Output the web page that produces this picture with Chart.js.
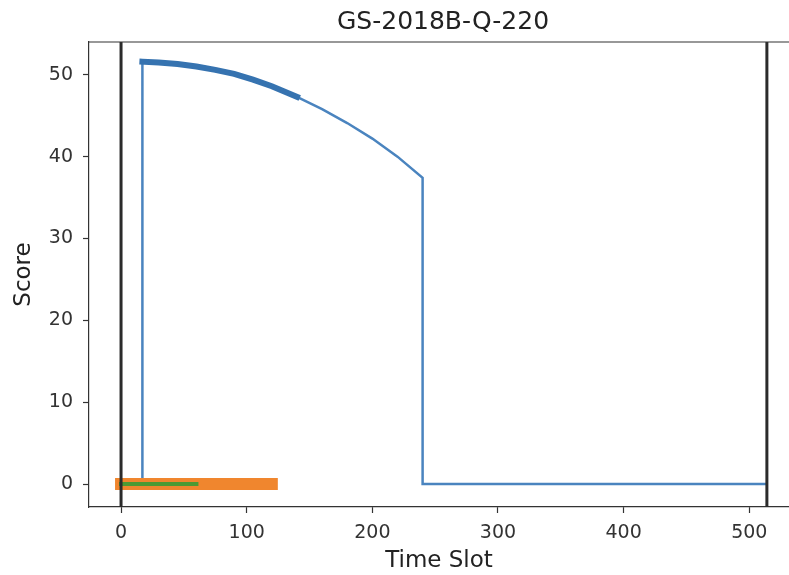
<!DOCTYPE html>
<html lang="en">
<head>
    <meta charset="UTF-8">
    <title>GS-2018B-Q-220</title>
    <style>
        html, body { margin: 0; padding: 0; background: #fff; }
        .chart-container { width: 789px; height: 575px; }
    </style>
    <script src="https://cdn.jsdelivr.net/npm/chart.js"></script>
</head>
<body>
    <div class="chart-container">
        <canvas id="score-chart"></canvas>
    </div>

    <script>
        // Score curve (time slot, score)
        const scoreSlots = [17, 17, 30, 45, 60, 75, 90, 105, 120, 140, 160, 180, 200, 220, 240, 240, 514];
        const scoreValues = [0, 51.6, 51.5, 51.3, 51.0, 50.6, 50.1, 49.4, 48.6, 47.3, 45.8, 44.1, 42.2, 40.0, 37.4, 0, 0];

        // highlighted (thick) part of the curve
        const thickSlots = [17, 30, 45, 60, 75, 90, 105, 120, 140];
        const thickValues = [51.6, 51.5, 51.3, 51.0, 50.6, 50.1, 49.4, 48.6, 47.3];

        // horizontal bars on the zero line
        const orangeRange = [0, 120];
        const greenRange = [0, 60];

        // vertical boundaries
        const boundarySlots = [0, 514];

        const xTicks = [0, 100, 200, 300, 400, 500];
        const yTicks = [0, 10, 20, 30, 40, 50];
        const xLimits = [-25.5, 531.6];
        const yLimits = [-2.8, 54];

        const titleText = 'GS-2018B-Q-220';

        const toPoints = (xs, ys) => xs.map((x, i) => ({ x: x, y: ys[i] }));

        const lineDs = (data, color, width, cap) => ({
            data: data,
            showLine: true,
            borderColor: color,
            backgroundColor: color,
            borderWidth: width,
            borderCapStyle: cap || 'butt',
            borderJoinStyle: 'miter',
            pointRadius: 0,
            pointHoverRadius: 0,
            fill: false,
            tension: 0
        });

        const datasets = [];
        boundarySlots.forEach(x => {
            datasets.push(lineDs([{ x: x, y: yLimits[0] }, { x: x, y: yLimits[1] }], '#2b2b2b', 3));
        });
        datasets.push(lineDs(greenRange.map(x => ({ x: x, y: 0 })), '#4c9a34', 4, 'square'));
        datasets.push(lineDs(orangeRange.map(x => ({ x: x, y: 0 })), '#f0862e', 12, 'square'));
        datasets.push(lineDs(toPoints(thickSlots, thickValues), '#3673b0', 6, 'square'));
        datasets.push(lineDs(toPoints(scoreSlots, scoreValues), '#4a84bf', 2.5));

        const font = 'DejaVu Sans';

        // top edge of the axes box + title (axes box runs past the right edge of the picture)
        const frame = {
            id: 'frame',
            afterDraw(chart) {
                const { ctx, chartArea: a } = chart;
                ctx.save();
                ctx.strokeStyle = '#333';
                ctx.lineWidth = 1.2;
                ctx.beginPath();
                ctx.moveTo(a.left, a.top);
                ctx.lineTo(a.right, a.top);
                ctx.stroke();
                ctx.fillStyle = '#222';
                ctx.font = `25px '${font}'`;
                ctx.textAlign = 'center';
                ctx.textBaseline = 'middle';
                ctx.fillText(titleText, (a.left + a.right) / 2 + 4, 22);
                ctx.restore();
            }
        };

        new Chart(document.getElementById('score-chart'), {
            type: 'scatter',
            data: { datasets: datasets },
            options: {
                responsive: true,
                maintainAspectRatio: false,
                animation: false,
                events: [],
                layout: { padding: { left: 0, right: 0, top: 42, bottom: 0 } },
                plugins: {
                    legend: { display: false },
                    tooltip: { enabled: false },
                    title: { display: false }
                },
                scales: {
                    x: {
                        type: 'linear',
                        min: xLimits[0],
                        max: xLimits[1],
                        afterBuildTicks: s => { s.ticks = xTicks.map(v => ({ value: v })); },
                        afterFit: s => { s.height = 68; },
                        grid: { drawOnChartArea: false, color: '#333', tickLength: 6, tickWidth: 1.2 },
                        border: { color: '#333', width: 1.2 },
                        ticks: { color: '#333', font: { family: font, size: 19 }, padding: 9, maxRotation: 0 },
                        title: {
                            display: true,
                            text: 'Time Slot',
                            color: '#222',
                            font: { family: font, size: 23 },
                            padding: { top: 0, bottom: 0 }
                        }
                    },
                    y: {
                        type: 'linear',
                        min: yLimits[0],
                        max: yLimits[1],
                        afterBuildTicks: s => { s.ticks = yTicks.map(v => ({ value: v })); },
                        afterFit: s => { s.width = 89; },
                        grid: { drawOnChartArea: false, color: '#333', tickLength: 6, tickWidth: 1.2 },
                        border: { color: '#333', width: 1.2 },
                        ticks: { color: '#333', font: { family: font, size: 19 }, padding: 10 },
                        title: {
                            display: true,
                            text: 'Score',
                            color: '#222',
                            font: { family: font, size: 23 },
                            padding: { top: 10, bottom: 0 }
                        }
                    }
                }
            },
            plugins: [frame]
        });
    </script>
</body>
</html>
